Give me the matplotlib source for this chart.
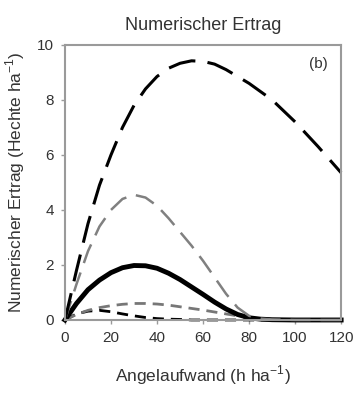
import matplotlib
matplotlib.use("Agg")
import matplotlib.pyplot as plt

plt.rcParams["font.family"] = ["Liberation Sans", "DejaVu Sans"]

# Angelaufwand (h/ha)
effort = [0, 5, 10, 15, 20, 25, 30, 35, 40, 45, 50, 55, 60, 65, 70, 75, 80, 85, 90, 100, 110, 120]

# numerischer Ertrag (Hechte/ha), one curve per scenario
yield_big = [0, 1.8, 3.5, 4.9, 6.0, 7.0, 7.8, 8.4, 8.85, 9.15, 9.33, 9.42, 9.4, 9.3, 9.1, 8.85,
             8.6, 8.3, 8.0, 7.2, 6.3, 5.35]
yield_gray_long = [0, 1.3, 2.5, 3.4, 4.0, 4.4, 4.55, 4.45, 4.15, 3.7, 3.2, 2.7, 2.15, 1.55, 0.95,
                   0.45, 0.15, 0.05, 0.02, 0, 0, 0]
yield_solid = [0, 0.6, 1.1, 1.45, 1.72, 1.9, 1.98, 1.97, 1.88, 1.7, 1.47, 1.2, 0.93, 0.65, 0.4,
               0.2, 0.08, 0.03, 0.01, 0, 0, 0]
yield_gray_short = [0, 0.2, 0.35, 0.45, 0.52, 0.57, 0.6, 0.6, 0.58, 0.54, 0.48, 0.42, 0.36, 0.29,
                    0.22, 0.15, 0.1, 0.05, 0.02, 0, 0, 0]
yield_small = [0, 0.22, 0.32, 0.35, 0.3, 0.22, 0.15, 0.09, 0.05, 0.03, 0.02, 0, 0, 0, 0, 0, 0, 0,
               0, 0, 0, 0]

fig = plt.figure(figsize=(3.55, 3.97), dpi=100)
ax = fig.add_axes([0.183, 0.194, 0.778, 0.693])

ax.plot(effort, yield_small, color="black", lw=2, dashes=(4, 2.5), clip_on=False)
ax.plot(effort, yield_gray_short, color="#777777", lw=2, dashes=(4, 2.5), clip_on=False)
ax.plot(effort, yield_solid, color="black", lw=3.5, clip_on=False)
ax.plot(effort, yield_gray_long, color="#808080", lw=1.8, dashes=(8, 4), clip_on=False)
ax.plot(effort, yield_big, color="black", lw=2.2, dashes=(9, 4), clip_on=False)

ax.set_xlim(0, 120)
ax.set_ylim(0, 10)
ax.set_xticks([0, 20, 40, 60, 80, 100, 120])
ax.set_yticks([0, 2, 4, 6, 8, 10])
for s in ax.spines.values():
    s.set_color("#9a9a9a")
    s.set_linewidth(1.5)
ax.tick_params(direction="out", length=3, width=1, color="#9a9a9a",
               labelsize=11, labelcolor="#333333", pad=5)

ax.set_title("Numerischer Ertrag", fontsize=13, color="#333333", pad=11)
ax.set_xlabel("Angelaufwand (h ha$^{\\mathregular{-1}}$)", fontsize=12.5, color="#333333",
              labelpad=13)
ax.set_ylabel("Numerischer Ertrag (Hechte ha$^{\\mathregular{-1}}$)", fontsize=12.5,
              color="#333333", labelpad=7)
ax.text(0.95, 0.93, "(b)", transform=ax.transAxes, ha="right", va="center",
        fontsize=11, color="#333333")

fig.savefig("out.png", dpi=100)
